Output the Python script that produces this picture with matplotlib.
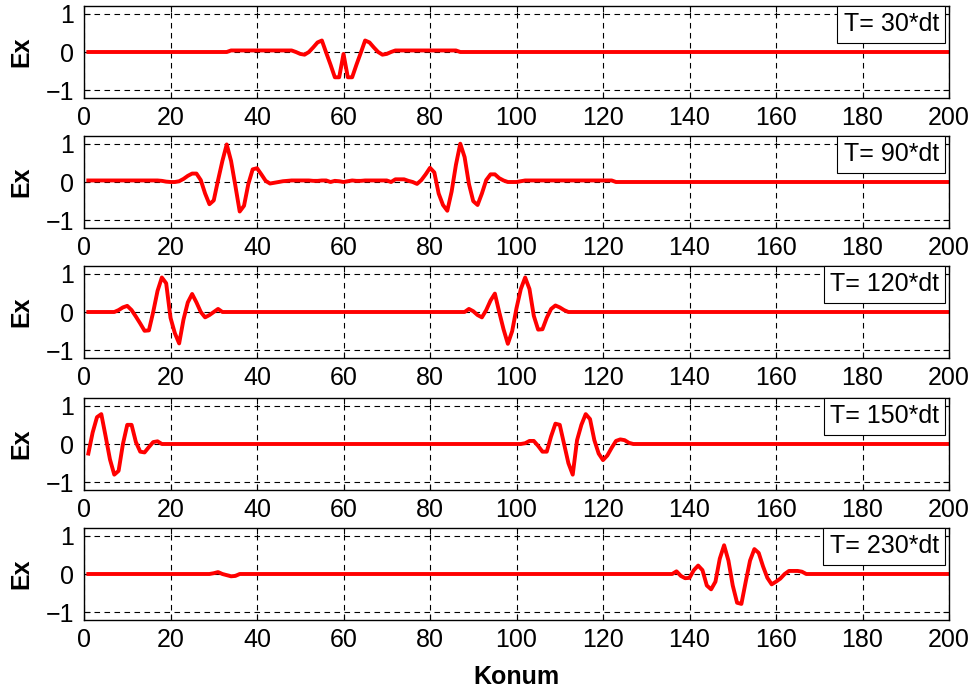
import numpy as np
import matplotlib.pyplot as plt

plt.rcParams['font.family'] = ['Liberation Sans', 'DejaVu Sans']

# grid positions (cells 1..200)
konum = np.arange(1, 201)

# T = 30*dt : pulse around the source at 60
t30_start = 34
t30_vals = [0.04, 0.04, 0.04, 0.04, 0.04, 0.04, 0.04, 0.04, 0.04, 0.04,
            0.04, 0.04, 0.04, 0.04, 0.04, 0.0, -0.05, -0.07, 0.0, 0.12,
            0.25, 0.3, -0.02, -0.33, -0.66, -0.66, -0.05, -0.66, -0.66, -0.33,
            -0.02, 0.3, 0.25, 0.12, 0.0, -0.07, -0.05, 0.0, 0.04, 0.04,
            0.04, 0.04, 0.04, 0.04, 0.04, 0.04, 0.04, 0.04, 0.04, 0.04,
            0.04, 0.04, 0.04]

# T = 90*dt : two pulses moving apart
t90_start = 1
t90_vals = [0.04, 0.04, 0.04, 0.04, 0.04, 0.04, 0.04, 0.04, 0.04, 0.04,
            0.04, 0.04, 0.04, 0.04, 0.04, 0.04, 0.04, 0.03, 0.01, 0.0,
            0.0, 0.02, 0.08, 0.16, 0.22, 0.22, 0.05, -0.3, -0.58, -0.48,
            0.05, 0.55, 0.98, 0.55, -0.1, -0.77, -0.62, -0.05, 0.33, 0.36,
            0.2, 0.03, -0.04, -0.02, 0.0, 0.02, 0.03, 0.04, 0.04, 0.04,
            0.04, 0.04, 0.03, 0.03, 0.04, 0.04, 0.0, 0.03, 0.02, 0.0,
            0.02, 0.04, 0.03, 0.03, 0.04, 0.04, 0.04, 0.04, 0.04, 0.04,
            0.0, 0.07, 0.07, 0.07, 0.03, 0.0, -0.05, 0.05, 0.2, 0.37,
            0.25, -0.3, -0.6, -0.75, -0.25, 0.45, 1.0, 0.65, -0.05, -0.5,
            -0.6, -0.3, 0.05, 0.2, 0.2, 0.1, 0.04, 0.0, 0.0, 0.0,
            0.02, 0.04, 0.04, 0.04, 0.04, 0.04, 0.04, 0.04, 0.04, 0.04,
            0.04, 0.04, 0.04, 0.04, 0.04, 0.04, 0.04, 0.04, 0.04, 0.04,
            0.04, 0.04]

# T = 120*dt
t120_left_start = 8
t120_left = [0.05, 0.12, 0.16, 0.05, -0.12, -0.3, -0.49, -0.48, 0.0, 0.55,
             0.9, 0.75, -0.15, -0.55, -0.82, -0.2, 0.25, 0.47, 0.25, 0.0,
             -0.14, -0.08, 0.0, 0.08, 0.0]
t120_right_start = 89
t120_right = [0.08, 0.02, -0.08, -0.14, 0.05, 0.3, 0.48, 0.0, -0.45, -0.83,
              -0.5, 0.1, 0.6, 0.9, 0.6, -0.1, -0.46, -0.45, -0.15, 0.08,
              0.17, 0.12, 0.05, 0.0]

# T = 150*dt
t150_left_start = 1
t150_left = [-0.25, 0.3, 0.7, 0.78, 0.2, -0.4, -0.8, -0.7, 0.0, 0.5,
             0.5, 0.05, -0.2, -0.22, -0.08, 0.05, 0.07, 0.0]
t150_right_start = 102
t150_right = [0.02, 0.08, 0.08, -0.05, -0.2, -0.2, 0.2, 0.53, 0.5, 0.0,
              -0.5, -0.8, 0.1, 0.5, 0.78, 0.65, 0.1, -0.25, -0.42, -0.3,
              -0.1, 0.08, 0.12, 0.1, 0.03, 0.0]

# T = 230*dt
t230_left_start = 30
t230_left = [0.02, 0.05, 0.0, -0.03, -0.06, -0.05, 0.0]
t230_right_start = 137
t230_right = [0.07, -0.05, -0.11, -0.1, 0.1, 0.22, 0.1, -0.3, -0.4, -0.2,
              0.4, 0.75, 0.35, -0.3, -0.75, -0.78, -0.2, 0.35, 0.65, 0.55,
              0.2, -0.1, -0.27, -0.2, -0.12, 0.0, 0.08, 0.08, 0.08, 0.06,
              0.0]

labels = ['T= 30*dt', 'T= 90*dt', 'T= 120*dt', 'T= 150*dt', 'T= 230*dt']


def field(pieces):
    """Build Ex over all cells from (start, values) pieces, zero elsewhere"""
    ex = np.zeros(len(konum))
    for start, vals in pieces:
        ex[start - 1:start - 1 + len(vals)] = vals
    return ex


fields = [
    field([(t30_start, t30_vals)]),
    field([(t90_start, t90_vals)]),
    field([(t120_left_start, t120_left), (t120_right_start, t120_right)]),
    field([(t150_left_start, t150_left), (t150_right_start, t150_right)]),
    field([(t230_left_start, t230_left), (t230_right_start, t230_right)]),
]

fig = plt.figure(figsize=(9.77, 6.93), dpi=100)
W, H = 977.0, 693.0
tops = [6, 136, 266, 398, 528]
left, right, h = 84, 949, 92

for i, (ex, lab) in enumerate(zip(fields, labels)):
    ax = fig.add_axes([left / W, 1 - (tops[i] + h) / H, (right - left) / W, h / H])
    ax.plot(konum, ex, color='r', lw=2.8, label=lab)
    ax.set_xlim(0, 200)
    ax.set_ylim(-1.2, 1.2)
    ax.set_xticks(np.arange(0, 201, 20))
    ax.set_yticks([-1, 0, 1])
    ax.grid(True, color='k', ls=(0, (5, 4)), lw=0.8)
    ax.tick_params(direction='in', top=True, right=True, length=4,
                   labelsize=18)
    ax.tick_params(axis='x', pad=6)
    ax.tick_params(axis='y', pad=7)
    for sp in ax.spines.values():
        sp.set_linewidth(1.0)
    ax.set_ylabel('Ex', fontsize=18, fontweight='bold')
    ax.yaxis.set_label_coords(-0.058, 0.5)
    leg = ax.legend(loc='upper right', bbox_to_anchor=(1 - 4 / 865, 1),
                    handlelength=0, handletextpad=0, fontsize=18,
                    fancybox=False, framealpha=1, edgecolor='k',
                    borderaxespad=0, borderpad=0.25)
    for line in leg.get_lines():
        line.set_visible(False)
    leg.get_frame().set_linewidth(0.8)
    if i == 4:
        ax.set_xlabel('Konum', fontsize=18, fontweight='bold', labelpad=9)

fig.savefig('out.png', dpi=100)
